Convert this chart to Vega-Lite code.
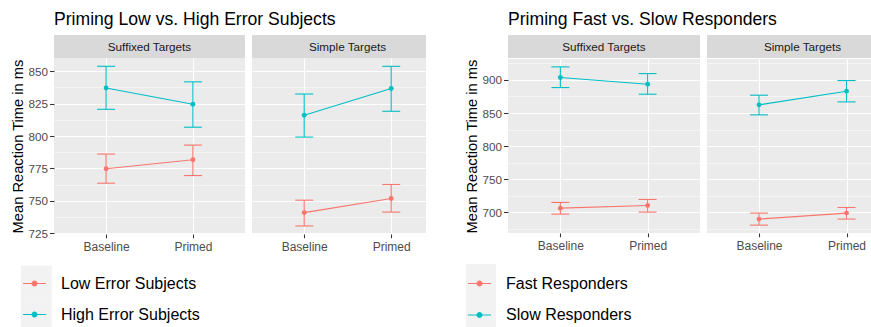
{
  "$schema": "https://vega.github.io/schema/vega-lite/v6.json",
  "padding": {"left": 10, "top": 11, "right": 0, "bottom": 68},
  "background": "#FFFFFF",
  "config": {
    "font": "Liberation Sans",
    "view": {"stroke": null},
    "axis": {"labelFont": "Liberation Sans", "titleFont": "Liberation Sans"},
    "legend": {"labelFont": "Liberation Sans"},
    "title": {"font": "Liberation Sans"},
    "text": {"font": "Liberation Sans"}
  },
  "datasets": {
    "L": [
      {"target": "Suffixed Targets", "cond": "Baseline", "group": "High Error Subjects", "mean": 837.0, "lo": 820.6, "hi": 853.8},
      {"target": "Suffixed Targets", "cond": "Primed", "group": "High Error Subjects", "mean": 824.5, "lo": 806.8, "hi": 841.8},
      {"target": "Suffixed Targets", "cond": "Baseline", "group": "Low Error Subjects", "mean": 774.8, "lo": 763.6, "hi": 786.1},
      {"target": "Suffixed Targets", "cond": "Primed", "group": "Low Error Subjects", "mean": 781.7, "lo": 769.5, "hi": 793.0},
      {"target": "Simple Targets", "cond": "Baseline", "group": "High Error Subjects", "mean": 816.0, "lo": 799.2, "hi": 832.4},
      {"target": "Simple Targets", "cond": "Primed", "group": "High Error Subjects", "mean": 836.7, "lo": 819.1, "hi": 853.8},
      {"target": "Simple Targets", "cond": "Baseline", "group": "Low Error Subjects", "mean": 740.9, "lo": 730.6, "hi": 750.5},
      {"target": "Simple Targets", "cond": "Primed", "group": "Low Error Subjects", "mean": 751.8, "lo": 741.3, "hi": 762.6}
    ],
    "R": [
      {"target": "Suffixed Targets", "cond": "Baseline", "group": "Slow Responders", "mean": 903.5, "lo": 888.4, "hi": 919.6},
      {"target": "Suffixed Targets", "cond": "Primed", "group": "Slow Responders", "mean": 893.5, "lo": 878.4, "hi": 909.5},
      {"target": "Suffixed Targets", "cond": "Baseline", "group": "Fast Responders", "mean": 706.5, "lo": 697.5, "hi": 715.1},
      {"target": "Suffixed Targets", "cond": "Primed", "group": "Fast Responders", "mean": 710.6, "lo": 700.5, "hi": 719.6},
      {"target": "Simple Targets", "cond": "Baseline", "group": "Slow Responders", "mean": 862.3, "lo": 847.2, "hi": 876.9},
      {"target": "Simple Targets", "cond": "Primed", "group": "Slow Responders", "mean": 882.9, "lo": 866.8, "hi": 899.0},
      {"target": "Simple Targets", "cond": "Baseline", "group": "Fast Responders", "mean": 690.0, "lo": 680.9, "hi": 699.0},
      {"target": "Simple Targets", "cond": "Primed", "group": "Fast Responders", "mean": 699.0, "lo": 690.0, "hi": 707.5}
    ]
  },
  "resolve": {"scale": {"color": "independent", "shape": "independent", "x": "independent", "y": "independent"}},
  "spacing": 38,
  "hconcat": [
    {
      "title": {"text": "Priming Low vs. High Error Subjects", "anchor": "start", "frame": "group", "fontSize": 17.6, "fontWeight": "normal", "color": "#000000", "offset": 6},
      "spacing": 0,
      "resolve": {"scale": {"color": "shared", "x": "independent", "y": "independent"}},
      "vconcat": [
        {
          "spacing": 7,
          "hconcat": [
            {"width": 191, "height": 23, "view": {"fill": "#D9D9D9", "stroke": null}, "data": {"values": [{"strip": "Suffixed Targets"}]}, "mark": {"type": "text", "fontSize": 11.7, "color": "#1A1A1A"}, "encoding": {"text": {"field": "strip"}}},
            {"width": 174, "height": 23, "view": {"fill": "#D9D9D9", "stroke": null}, "data": {"values": [{"strip": "Simple Targets"}]}, "mark": {"type": "text", "fontSize": 11.7, "color": "#1A1A1A", "dx": 8.5}, "encoding": {"text": {"field": "strip"}}}
          ]
        },
        {
          "spacing": 7,
          "resolve": {"scale": {"x": "independent", "y": "independent"}},
          "hconcat": [
            {
              "width": 191, "height": 176,
              "view": {"fill": "#EBEBEB", "stroke": null},
              "data": {"name": "L"},
              "transform": [{"filter": {"field": "target", "equal": "Suffixed Targets"}}],
              "encoding": {
                "x": {"field": "cond", "type": "nominal", "sort": ["Baseline", "Primed"], "scale": {"type": "point", "padding": 0.6}, "axis": {"title": null, "grid": true, "gridColor": "#FFFFFF", "gridWidth": 1.07, "domain": false, "tickColor": "#333333", "tickSize": 3.7, "tickWidth": 1.07, "labelFontSize": 12, "labelColor": "#4D4D4D", "labelPadding": 4, "labelAngle": 0}},
                "color": {"field": "group", "type": "nominal", "scale": {"domain": ["Low Error Subjects", "High Error Subjects"], "range": ["#F8766D", "#00BFC4"]}, "legend": {"title": null, "orient": "none", "legendX": -31, "legendY": 237, "zindex": 1, "symbolType": "M-1,-0.048H1V0.048H-1Z M0.26,0A0.26,0.26,0,1,1,-0.26,0A0.26,0.26,0,1,1,0.26,0Z", "symbolSize": 529, "symbolStrokeWidth": 0, "symbolOpacity": 1, "symbolFillColor": null, "labelFontSize": 16, "labelColor": "#000000", "labelOffset": 15, "rowPadding": 11, "padding": 0}}
              },
              "layer": [
                {"mark": {"type": "rule", "strokeWidth": 1.1}, "encoding": {"y": {"field": "lo", "type": "quantitative", "scale": {"domain": [724.4, 860.2], "nice": false, "zero": false}, "axis": {"values": [725, 750, 775, 800, 825, 850], "title": "Mean Reaction Time in ms", "grid": true, "gridColor": "#FFFFFF", "gridWidth": 1.07, "domain": false, "tickColor": "#333333", "tickSize": 4.5, "tickWidth": 1.07, "labelFontSize": 11.7, "labelColor": "#4D4D4D", "labelPadding": 2, "titleFontSize": 14.7, "titleFontWeight": "normal", "titleColor": "#000000", "titlePadding": 2}}, "y2": {"field": "hi"}}},
                {"mark": {"type": "tick", "size": 18, "thickness": 1.1, "opacity": 1}, "encoding": {"y": {"field": "hi", "type": "quantitative", "axis": {"orient": "left", "values": [737.5, 762.5, 787.5, 812.5, 837.5], "labels": false, "ticks": false, "domain": false, "title": null, "grid": true, "gridColor": "#FFFFFF", "gridWidth": 0.53}}}},
                {"mark": {"type": "tick", "size": 18, "thickness": 1.1, "opacity": 1}, "encoding": {"y": {"field": "lo", "type": "quantitative", "axis": null}}},
                {"mark": {"type": "line", "strokeWidth": 1.1}, "encoding": {"y": {"field": "mean", "type": "quantitative", "axis": null}}},
                {"mark": {"type": "point", "filled": true, "size": 24, "opacity": 1}, "encoding": {"y": {"field": "mean", "type": "quantitative", "axis": null}}},
                {"mark": {"type": "point", "filled": true, "size": 24, "opacity": 0}, "encoding": {"y": {"field": "mean", "type": "quantitative", "axis": null}, "color": {"value": "#F2F2F2"}, "shape": {"field": "cond", "type": "nominal", "scale": {"domain": ["Baseline", "Primed"], "range": ["M-1,-1H1V1H-1Z", "M-1,-1H1V1H-1Z"]}, "legend": {"title": null, "orient": "none", "legendX": -33.2, "legendY": 230.7, "zindex": 0, "symbolSize": 961, "symbolFillColor": "#F2F2F2", "symbolStrokeWidth": 0, "symbolOpacity": 1, "labelExpr": "''", "rowPadding": 0, "padding": 0}}}}
              ],
              "resolve": {"axis": {"y": "independent"}}
            },
            {
              "width": 174, "height": 176,
              "view": {"fill": "#EBEBEB", "stroke": null},
              "data": {"name": "L"},
              "transform": [{"filter": {"field": "target", "equal": "Simple Targets"}}],
              "encoding": {
                "x": {"field": "cond", "type": "nominal", "sort": ["Baseline", "Primed"], "scale": {"type": "point", "padding": 0.5, "align": 0.6}, "axis": {"title": null, "grid": true, "gridColor": "#FFFFFF", "gridWidth": 1.07, "domain": false, "tickColor": "#333333", "tickSize": 3.7, "tickWidth": 1.07, "labelFontSize": 12, "labelColor": "#4D4D4D", "labelPadding": 4, "labelAngle": 0}},
                "color": {"field": "group", "type": "nominal", "scale": {"domain": ["Low Error Subjects", "High Error Subjects"], "range": ["#F8766D", "#00BFC4"]}, "legend": {"title": null, "orient": "none", "legendX": -31, "legendY": 237, "zindex": 1, "symbolType": "M-1,-0.048H1V0.048H-1Z M0.26,0A0.26,0.26,0,1,1,-0.26,0A0.26,0.26,0,1,1,0.26,0Z", "symbolSize": 529, "symbolStrokeWidth": 0, "symbolOpacity": 1, "symbolFillColor": null, "labelFontSize": 16, "labelColor": "#000000", "labelOffset": 15, "rowPadding": 11, "padding": 0}}
              },
              "layer": [
                {"mark": {"type": "rule", "strokeWidth": 1.1}, "encoding": {"y": {"field": "lo", "type": "quantitative", "scale": {"domain": [724.4, 860.2], "nice": false, "zero": false}, "axis": {"values": [725, 750, 775, 800, 825, 850], "title": null, "labels": false, "ticks": false, "domain": false, "grid": true, "gridColor": "#FFFFFF", "gridWidth": 1.07}}, "y2": {"field": "hi"}}},
                {"mark": {"type": "tick", "size": 18, "thickness": 1.1, "opacity": 1}, "encoding": {"y": {"field": "hi", "type": "quantitative", "axis": {"orient": "left", "values": [737.5, 762.5, 787.5, 812.5, 837.5], "labels": false, "ticks": false, "domain": false, "title": null, "grid": true, "gridColor": "#FFFFFF", "gridWidth": 0.53}}}},
                {"mark": {"type": "tick", "size": 18, "thickness": 1.1, "opacity": 1}, "encoding": {"y": {"field": "lo", "type": "quantitative", "axis": null}}},
                {"mark": {"type": "line", "strokeWidth": 1.1}, "encoding": {"y": {"field": "mean", "type": "quantitative", "axis": null}}},
                {"mark": {"type": "point", "filled": true, "size": 24, "opacity": 1}, "encoding": {"y": {"field": "mean", "type": "quantitative", "axis": null}}}
              ],
              "resolve": {"axis": {"y": "independent"}}
            }
          ]
        }
      ]
    },
    {
      "title": {"text": "Priming Fast vs. Slow Responders", "anchor": "start", "frame": "group", "fontSize": 17.6, "fontWeight": "normal", "color": "#000000", "offset": 6},
      "spacing": 0,
      "resolve": {"scale": {"color": "shared", "x": "independent", "y": "independent"}},
      "vconcat": [
        {
          "spacing": 7,
          "hconcat": [
            {"width": 192, "height": 23, "view": {"fill": "#D9D9D9", "stroke": null}, "data": {"values": [{"strip": "Suffixed Targets"}]}, "mark": {"type": "text", "fontSize": 11.7, "color": "#1A1A1A"}, "encoding": {"text": {"field": "strip"}}},
            {"width": 164, "height": 23, "view": {"fill": "#D9D9D9", "stroke": null}, "data": {"values": [{"strip": "Simple Targets"}]}, "mark": {"type": "text", "fontSize": 11.7, "color": "#1A1A1A", "dx": 13.5}, "encoding": {"text": {"field": "strip"}}}
          ]
        },
        {
          "spacing": 7,
          "resolve": {"scale": {"x": "independent", "y": "independent"}},
          "hconcat": [
            {
              "width": 192, "height": 174,
              "view": {"fill": "#EBEBEB", "stroke": null},
              "data": {"name": "R"},
              "transform": [{"filter": {"field": "target", "equal": "Suffixed Targets"}}],
              "encoding": {
                "x": {"field": "cond", "type": "nominal", "sort": ["Baseline", "Primed"], "scale": {"type": "point", "padding": 0.6}, "axis": {"title": null, "grid": true, "gridColor": "#FFFFFF", "gridWidth": 1.07, "domain": false, "tickColor": "#333333", "tickSize": 3.7, "tickWidth": 1.07, "labelFontSize": 12, "labelColor": "#4D4D4D", "labelPadding": 4, "labelAngle": 0}},
                "color": {"field": "group", "type": "nominal", "scale": {"domain": ["Fast Responders", "Slow Responders"], "range": ["#F8766D", "#00BFC4"]}, "legend": {"title": null, "orient": "none", "legendX": -40, "legendY": 237, "zindex": 1, "symbolType": "M-1,-0.048H1V0.048H-1Z M0.26,0A0.26,0.26,0,1,1,-0.26,0A0.26,0.26,0,1,1,0.26,0Z", "symbolSize": 529, "symbolStrokeWidth": 0, "symbolOpacity": 1, "symbolFillColor": null, "labelFontSize": 16, "labelColor": "#000000", "labelOffset": 15, "rowPadding": 11.5, "padding": 0}}
              },
              "layer": [
                {"mark": {"type": "rule", "strokeWidth": 1.1}, "encoding": {"y": {"field": "lo", "type": "quantitative", "scale": {"domain": [669, 931.5], "nice": false, "zero": false}, "axis": {"values": [700, 750, 800, 850, 900], "title": "Mean Reaction Time in ms", "grid": true, "gridColor": "#FFFFFF", "gridWidth": 1.07, "domain": false, "tickColor": "#333333", "tickSize": 4.5, "tickWidth": 1.07, "labelFontSize": 11.7, "labelColor": "#4D4D4D", "labelPadding": 2, "titleFontSize": 14.7, "titleFontWeight": "normal", "titleColor": "#000000", "titlePadding": 2}}, "y2": {"field": "hi"}}},
                {"mark": {"type": "tick", "size": 18, "thickness": 1.1, "opacity": 1}, "encoding": {"y": {"field": "hi", "type": "quantitative", "axis": {"orient": "left", "values": [675, 725, 775, 825, 875, 925], "labels": false, "ticks": false, "domain": false, "title": null, "grid": true, "gridColor": "#FFFFFF", "gridWidth": 0.53}}}},
                {"mark": {"type": "tick", "size": 18, "thickness": 1.1, "opacity": 1}, "encoding": {"y": {"field": "lo", "type": "quantitative", "axis": null}}},
                {"mark": {"type": "line", "strokeWidth": 1.1}, "encoding": {"y": {"field": "mean", "type": "quantitative", "axis": null}}},
                {"mark": {"type": "point", "filled": true, "size": 24, "opacity": 1}, "encoding": {"y": {"field": "mean", "type": "quantitative", "axis": null}}},
                {"mark": {"type": "point", "filled": true, "size": 24, "opacity": 0}, "encoding": {"y": {"field": "mean", "type": "quantitative", "axis": null}, "color": {"value": "#F2F2F2"}, "shape": {"field": "cond", "type": "nominal", "scale": {"domain": ["Baseline", "Primed"], "range": ["M-0.9375,-1H0.9375V1H-0.9375Z", "M-0.9375,-1H0.9375V1H-0.9375Z"]}, "legend": {"title": null, "orient": "none", "legendX": -43, "legendY": 229, "zindex": 0, "symbolSize": 1024, "symbolFillColor": "#F2F2F2", "symbolStrokeWidth": 0, "symbolOpacity": 1, "labelExpr": "''", "rowPadding": 0, "padding": 0}}}}
              ],
              "resolve": {"axis": {"y": "independent"}}
            },
            {
              "width": 164, "height": 174,
              "view": {"fill": "#EBEBEB", "stroke": null},
              "data": {"name": "R"},
              "transform": [{"filter": {"field": "target", "equal": "Simple Targets"}}],
              "encoding": {
                "x": {"field": "cond", "type": "nominal", "sort": ["Baseline", "Primed"], "scale": {"type": "point", "padding": 0.437, "align": 0.68}, "axis": {"title": null, "grid": true, "gridColor": "#FFFFFF", "gridWidth": 1.07, "domain": false, "tickColor": "#333333", "tickSize": 3.7, "tickWidth": 1.07, "labelFontSize": 12, "labelColor": "#4D4D4D", "labelPadding": 4, "labelAngle": 0}},
                "color": {"field": "group", "type": "nominal", "scale": {"domain": ["Fast Responders", "Slow Responders"], "range": ["#F8766D", "#00BFC4"]}, "legend": {"title": null, "orient": "none", "legendX": -40, "legendY": 237, "zindex": 1, "symbolType": "M-1,-0.048H1V0.048H-1Z M0.26,0A0.26,0.26,0,1,1,-0.26,0A0.26,0.26,0,1,1,0.26,0Z", "symbolSize": 529, "symbolStrokeWidth": 0, "symbolOpacity": 1, "symbolFillColor": null, "labelFontSize": 16, "labelColor": "#000000", "labelOffset": 15, "rowPadding": 11.5, "padding": 0}}
              },
              "layer": [
                {"mark": {"type": "rule", "strokeWidth": 1.1}, "encoding": {"y": {"field": "lo", "type": "quantitative", "scale": {"domain": [669, 931.5], "nice": false, "zero": false}, "axis": {"values": [700, 750, 800, 850, 900], "title": null, "labels": false, "ticks": false, "domain": false, "grid": true, "gridColor": "#FFFFFF", "gridWidth": 1.07}}, "y2": {"field": "hi"}}},
                {"mark": {"type": "tick", "size": 18, "thickness": 1.1, "opacity": 1}, "encoding": {"y": {"field": "hi", "type": "quantitative", "axis": {"orient": "left", "values": [675, 725, 775, 825, 875, 925], "labels": false, "ticks": false, "domain": false, "title": null, "grid": true, "gridColor": "#FFFFFF", "gridWidth": 0.53}}}},
                {"mark": {"type": "tick", "size": 18, "thickness": 1.1, "opacity": 1}, "encoding": {"y": {"field": "lo", "type": "quantitative", "axis": null}}},
                {"mark": {"type": "line", "strokeWidth": 1.1}, "encoding": {"y": {"field": "mean", "type": "quantitative", "axis": null}}},
                {"mark": {"type": "point", "filled": true, "size": 24, "opacity": 1}, "encoding": {"y": {"field": "mean", "type": "quantitative", "axis": null}}}
              ],
              "resolve": {"axis": {"y": "independent"}}
            }
          ]
        }
      ]
    }
  ]
}
